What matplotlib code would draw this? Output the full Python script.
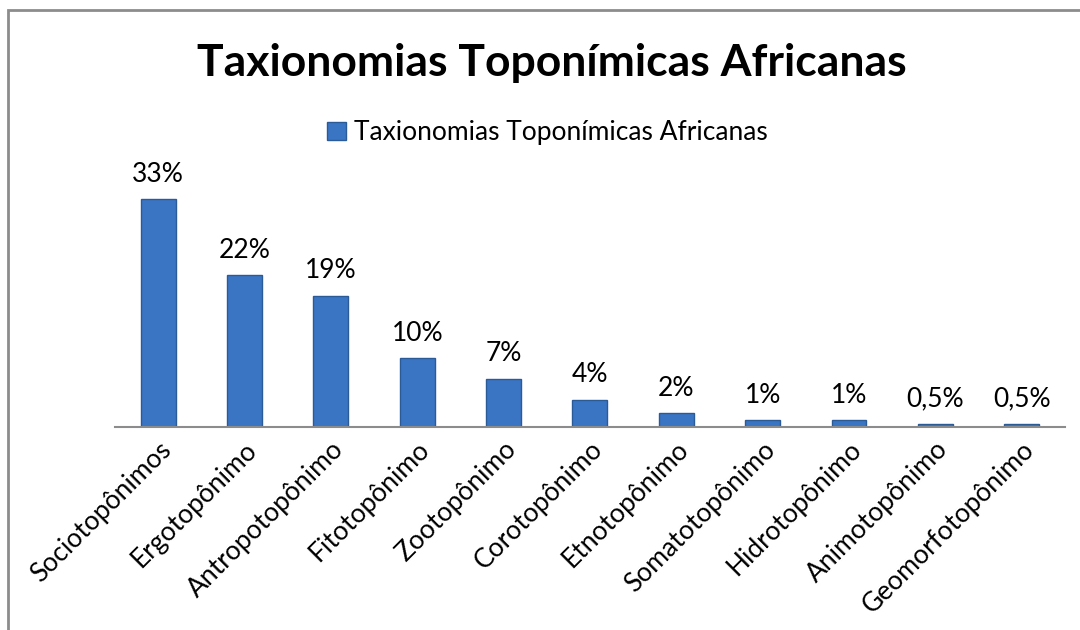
import matplotlib.pyplot as plt
from matplotlib.patches import Rectangle

categories = ["Sociotopônimos", "Ergotopônimo", "Antropotopônimo", "Fitotopônimo",
              "Zootopônimo", "Corotopônimo", "Etnotopônimo", "Somatotopônimo",
              "Hidrotopônimo", "Animotopônimo", "Geomorfotopônimo"]
values = [33, 22, 19, 10, 7, 4, 2, 1, 1, 0.5, 0.5]
value_labels = ["33%", "22%", "19%", "10%", "7%", "4%", "2%", "1%", "1%", "0,5%", "0,5%"]
series_name = "Taxionomias Toponímicas Africanas"

plt.rcParams['font.family'] = ['Lato', 'DejaVu Sans']

fig = plt.figure(figsize=(10.8, 6.3), dpi=100)
ax = fig.add_axes([0.1065, 0.322, 0.8795, 0.408])

# outer chart border (right and bottom edges fall outside the image)
fig.patches.append(Rectangle((8 / 1080, -0.1), 1.2, 1.1 - 10 / 630, transform=fig.transFigure,
                             fill=False, edgecolor='#8c8c8c', linewidth=2))

x = range(len(categories))
bars = ax.bar(x, values, width=0.405, color='#3a75c3', edgecolor='#2b5a98',
              linewidth=1, label=series_name)

for b, lab in zip(bars, value_labels):
    ax.annotate(lab, (b.get_x() + b.get_width() / 2, b.get_height()),
                xytext=(0, 9), textcoords='offset points',
                ha='center', va='bottom', fontsize=19)

ax.set_xlim(-0.5, len(categories) - 0.5)
ax.set_ylim(0, 37.2)
ax.set_xticks(list(x))
ax.set_xticklabels(categories, rotation=45, ha='right', rotation_mode='anchor', fontsize=19)
ax.tick_params(axis='x', length=0, pad=7)
ax.set_yticks([])
for s in ['top', 'right', 'left']:
    ax.spines[s].set_visible(False)
ax.spines['bottom'].set_color('#8c8c8c')
ax.spines['bottom'].set_linewidth(1.5)

fig.text(0.511, 0.9, series_name, ha='center', va='center', fontsize=32, fontweight='bold')
fig.legend(handles=[bars], labels=[series_name], loc='center', bbox_to_anchor=(0.507, 0.789),
           frameon=False, fontsize=19, handlelength=0.7, handleheight=0.7, handletextpad=0.3)

fig.savefig('out.png', dpi=100, facecolor='white')
